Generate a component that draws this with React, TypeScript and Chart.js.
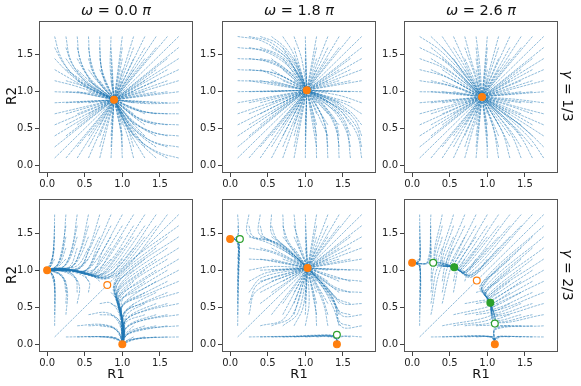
import React, { useEffect, useRef } from "react";
import { Chart, registerables } from "chart.js";
Chart.register(...registerables);

// ---------- data ----------
const TICK_VALUES = [0, 0.5, 1.0, 1.5];
const OMEGA_LABELS = ["0.0", "1.8", "2.6"];
const GAMMA_LABELS = ["1/3", "2/3"];

// Trajectories for starts with R2 >= R1 (upper-left half).
// The system is symmetric under R1 <-> R2, so the other half is the same list with x/y swapped.
// Each trajectory: [x0, y0, x1, y1, ...] ending at the attractor it reaches.

// ω = 0.0π, γ = 1/3  (node at 0.89, 0.89)
const trajA: number[][] = [
  [0.1, 1.75, 0.17, 1.5, 0.32, 1.25, 0.55, 1.05, 0.89, 0.89],
  [0.1, 1.6, 0.22, 1.38, 0.4, 1.18, 0.62, 1.02, 0.89, 0.89],
  [0.1, 1.45, 0.27, 1.27, 0.48, 1.1, 0.89, 0.89],
  [0.1, 1.3, 0.32, 1.17, 0.55, 1.04, 0.89, 0.89],
  [0.1, 1.15, 0.4, 1.07, 0.89, 0.89],
  [0.1, 1.0, 0.45, 0.98, 0.89, 0.89],
  [0.25, 1.75, 0.3, 1.47, 0.42, 1.24, 0.62, 1.04, 0.89, 0.89],
  [0.4, 1.75, 0.43, 1.47, 0.52, 1.24, 0.68, 1.03, 0.89, 0.89],
  [0.55, 1.75, 0.57, 1.45, 0.64, 1.2, 0.89, 0.89],
  [0.7, 1.75, 0.71, 1.4, 0.77, 1.12, 0.89, 0.89],
  [0.85, 1.75, 0.84, 1.3, 0.89, 0.89],
  [0.25, 1.6, 0.33, 1.38, 0.5, 1.17, 0.68, 1.02, 0.89, 0.89],
  [0.25, 1.45, 0.38, 1.27, 0.56, 1.1, 0.89, 0.89],
  [0.25, 1.3, 0.44, 1.17, 0.62, 1.04, 0.89, 0.89],
  [0.25, 1.15, 0.5, 1.07, 0.89, 0.89],
  [0.25, 1.0, 0.55, 0.98, 0.89, 0.89],
  [0.4, 1.6, 0.46, 1.38, 0.58, 1.17, 0.89, 0.89],
  [0.4, 1.45, 0.5, 1.27, 0.63, 1.1, 0.89, 0.89],
  [0.4, 1.3, 0.55, 1.16, 0.89, 0.89],
  [0.4, 1.15, 0.6, 1.06, 0.89, 0.89],
  [0.55, 1.6, 0.59, 1.38, 0.68, 1.15, 0.89, 0.89],
  [0.55, 1.45, 0.62, 1.25, 0.89, 0.89],
  [0.55, 1.3, 0.66, 1.15, 0.89, 0.89],
  [0.7, 1.6, 0.73, 1.3, 0.89, 0.89],
  [0.7, 1.45, 0.75, 1.2, 0.89, 0.89],
];
// starts that run (nearly) straight into the node
const straightA: number[][] = [
  [0.1, 0.85], [0.1, 0.7], [0.1, 0.55], [0.1, 0.4], [0.1, 0.25], [0.1, 0.1],
  [1.0, 1.75], [1.15, 1.75], [1.3, 1.75], [1.45, 1.75], [1.6, 1.75], [1.75, 1.75],
  [0.25, 0.85], [0.25, 0.7], [0.25, 0.55], [0.25, 0.4],
  [0.4, 1.0], [0.4, 0.85], [0.4, 0.7], [0.4, 0.55],
  [0.55, 1.15], [0.55, 1.0], [0.55, 0.85], [0.55, 0.7],
  [0.7, 1.3], [0.7, 1.15], [0.7, 1.0], [0.7, 0.85],
  [0.85, 1.6], [0.85, 1.45], [0.85, 1.3], [0.85, 1.15], [0.85, 1.0],
  [1.0, 1.6], [1.0, 1.45], [1.0, 1.3], [1.0, 1.15],
  [1.15, 1.6], [1.15, 1.45], [1.15, 1.3],
  [1.3, 1.6], [1.3, 1.45], [1.45, 1.6],
];

// ω = 1.8π, γ = 1/3  (node at 1.02, 1.02)
const trajB: number[][] = [
  [0.1, 1.75, 0.42, 1.69, 0.74, 1.47, 0.93, 1.2, 1.02, 1.02],
  [0.1, 1.6, 0.45, 1.55, 0.76, 1.36, 1.02, 1.02],
  [0.1, 1.45, 0.45, 1.42, 0.78, 1.26, 1.02, 1.02],
  [0.1, 1.3, 0.5, 1.27, 0.8, 1.16, 1.02, 1.02],
  [0.1, 1.15, 0.55, 1.13, 1.02, 1.02],
  [0.25, 1.75, 0.52, 1.68, 0.8, 1.44, 0.95, 1.2, 1.02, 1.02],
  [0.4, 1.75, 0.62, 1.66, 0.84, 1.42, 1.02, 1.02],
  [0.55, 1.75, 0.73, 1.6, 0.9, 1.35, 1.02, 1.02],
  [0.7, 1.75, 0.84, 1.52, 1.02, 1.02],
  [0.85, 1.75, 0.95, 1.45, 1.02, 1.02],
  [0.25, 1.6, 0.55, 1.53, 0.82, 1.33, 1.02, 1.02],
  [0.25, 1.45, 0.55, 1.4, 0.83, 1.24, 1.02, 1.02],
  [0.25, 1.3, 0.6, 1.25, 1.02, 1.02],
  [0.4, 1.6, 0.65, 1.5, 0.87, 1.3, 1.02, 1.02],
  [0.4, 1.45, 0.65, 1.38, 1.02, 1.02],
  [0.55, 1.6, 0.76, 1.45, 1.02, 1.02],
];
const straightB: number[][] = [
  [0.1, 1.0], [0.1, 0.85], [0.1, 0.7], [0.1, 0.55], [0.1, 0.4], [0.1, 0.25], [0.1, 0.1],
  [1.0, 1.75], [1.15, 1.75], [1.3, 1.75], [1.45, 1.75], [1.6, 1.75], [1.75, 1.75],
  [0.25, 1.15], [0.25, 1.0], [0.25, 0.85], [0.25, 0.7], [0.25, 0.55], [0.25, 0.4],
  [0.4, 1.3], [0.4, 1.15], [0.4, 1.0], [0.4, 0.85], [0.4, 0.7], [0.4, 0.55],
  [0.55, 1.45], [0.55, 1.3], [0.55, 1.15], [0.55, 1.0], [0.55, 0.85], [0.55, 0.7],
  [0.7, 1.6], [0.7, 1.45], [0.7, 1.3], [0.7, 1.15], [0.7, 0.85],
  [0.85, 1.6], [0.85, 1.45], [0.85, 1.3], [0.85, 1.15],
  [1.0, 1.6], [1.0, 1.45], [1.0, 1.3],
  [1.15, 1.6], [1.15, 1.45], [1.15, 1.3],
  [1.3, 1.6], [1.3, 1.45], [1.45, 1.6],
];

// ω = 2.6π, γ = 1/3  (node at 0.93, 0.93)
const trajC: number[][] = [
  [0.1, 1.75, 0.35, 1.58, 0.6, 1.33, 0.8, 1.1, 0.93, 0.93],
  [0.1, 1.6, 0.38, 1.45, 0.62, 1.24, 0.93, 0.93],
  [0.1, 1.45, 0.4, 1.33, 0.65, 1.16, 0.93, 0.93],
  [0.1, 1.3, 0.45, 1.2, 0.93, 0.93],
  [0.1, 1.15, 0.5, 1.08, 0.93, 0.93],
  [0.1, 1.0, 0.5, 0.99, 0.93, 0.93],
  [0.25, 1.75, 0.45, 1.55, 0.66, 1.3, 0.82, 1.1, 0.93, 0.93],
  [0.4, 1.75, 0.55, 1.52, 0.72, 1.26, 0.93, 0.93],
  [0.55, 1.75, 0.66, 1.5, 0.78, 1.22, 0.93, 0.93],
  [0.7, 1.75, 0.78, 1.45, 0.93, 0.93],
  [0.85, 1.75, 0.9, 1.35, 0.93, 0.93],
  [0.25, 1.6, 0.45, 1.43, 0.66, 1.22, 0.93, 0.93],
  [0.25, 1.45, 0.48, 1.3, 0.93, 0.93],
  [0.25, 1.3, 0.5, 1.18, 0.93, 0.93],
  [0.25, 1.15, 0.55, 1.07, 0.93, 0.93],
  [0.4, 1.6, 0.56, 1.42, 0.72, 1.2, 0.93, 0.93],
  [0.4, 1.45, 0.58, 1.3, 0.93, 0.93],
  [0.4, 1.3, 0.6, 1.16, 0.93, 0.93],
  [0.55, 1.6, 0.68, 1.38, 0.93, 0.93],
  [0.55, 1.45, 0.68, 1.26, 0.93, 0.93],
  [0.7, 1.6, 0.8, 1.32, 0.93, 0.93],
];
const straightC: number[][] = [
  [0.1, 0.85], [0.1, 0.7], [0.1, 0.55], [0.1, 0.4], [0.1, 0.25], [0.1, 0.1],
  [1.0, 1.75], [1.15, 1.75], [1.3, 1.75], [1.45, 1.75], [1.6, 1.75], [1.75, 1.75],
  [0.25, 1.0], [0.25, 0.85], [0.25, 0.7], [0.25, 0.55], [0.25, 0.4],
  [0.4, 1.15], [0.4, 1.0], [0.4, 0.85], [0.4, 0.7], [0.4, 0.55],
  [0.55, 1.3], [0.55, 1.15], [0.55, 1.0], [0.55, 0.85], [0.55, 0.7],
  [0.7, 1.45], [0.7, 1.3], [0.7, 1.15], [0.7, 1.0], [0.7, 0.85],
  [0.85, 1.6], [0.85, 1.45], [0.85, 1.3], [0.85, 1.15], [0.85, 1.0],
  [1.0, 1.6], [1.0, 1.45], [1.0, 1.3], [1.0, 1.15],
  [1.15, 1.6], [1.15, 1.45], [1.15, 1.3],
  [1.3, 1.6], [1.3, 1.45], [1.45, 1.6],
];

// ω = 0.0π, γ = 2/3
const trajD: number[][] = [
  [0.1, 1.75, 0.09, 1.35, 0.06, 1.08, 0, 1],
  [0.1, 1.6, 0.08, 1.25, 0.04, 1.05, 0, 1],
  [0.1, 1.45, 0.07, 1.18, 0, 1],
  [0.1, 1.3, 0.06, 1.12, 0, 1],
  [0.1, 1.15, 0.05, 1.06, 0, 1],
  [0.1, 1.0, 0, 1],
  [0.1, 0.85, 0.07, 0.95, 0, 1],
  [0.1, 0.7, 0.09, 0.9, 0.04, 0.98, 0, 1],
  [0.1, 0.55, 0.1, 0.85, 0.05, 0.97, 0, 1],
  [0.1, 0.4, 0.1, 0.8, 0.05, 0.97, 0, 1],
  [0.1, 0.25, 0.1, 0.75, 0.05, 0.96, 0, 1],
  [0.1, 0.1, 0.8, 0.8],
  [0.25, 1.75, 0.21, 1.3, 0.13, 1.06, 0, 1],
  [0.4, 1.75, 0.33, 1.3, 0.23, 1.06, 0.08, 1.02, 0, 1],
  [0.55, 1.75, 0.45, 1.3, 0.33, 1.05, 0.12, 1.02, 0, 1],
  [0.7, 1.75, 0.56, 1.3, 0.43, 1.03, 0.15, 1.02, 0, 1],
  [0.85, 1.75, 0.66, 1.3, 0.51, 1.0, 0.2, 1.02, 0, 1],
  [1.0, 1.75, 0.75, 1.28, 0.58, 0.97, 0.25, 1.01, 0, 1],
  [1.15, 1.75, 0.84, 1.24, 0.63, 0.95, 0.3, 1.0, 0, 1],
  [1.3, 1.75, 0.93, 1.18, 0.68, 0.92, 0.35, 1.0, 0, 1],
  [1.45, 1.75, 1.0, 1.1, 0.72, 0.9, 0.4, 0.99, 0, 1],
  [1.6, 1.75, 1.05, 1.03, 0.76, 0.88, 0.45, 0.98, 0, 1],
  [1.75, 1.75, 0.8, 0.8],
  [0.25, 1.6, 0.19, 1.25, 0.12, 1.05, 0, 1],
  [0.4, 1.6, 0.32, 1.25, 0.22, 1.05, 0.08, 1.02, 0, 1],
  [0.55, 1.6, 0.44, 1.25, 0.32, 1.04, 0.1, 1.02, 0, 1],
  [0.7, 1.6, 0.55, 1.25, 0.42, 1.02, 0.15, 1.02, 0, 1],
  [0.85, 1.6, 0.65, 1.22, 0.5, 0.99, 0.2, 1.02, 0, 1],
  [1.0, 1.6, 0.74, 1.18, 0.57, 0.96, 0.25, 1.01, 0, 1],
  [1.15, 1.6, 0.84, 1.12, 0.63, 0.94, 0.3, 1.0, 0, 1],
  [1.3, 1.6, 0.92, 1.07, 0.68, 0.92, 0.35, 1.0, 0, 1],
  [1.45, 1.6, 0.95, 0.98, 0.72, 0.9, 0.4, 0.99, 0, 1],
  [0.25, 1.45, 0.18, 1.15, 0.1, 1.03, 0, 1],
  [0.4, 1.45, 0.3, 1.15, 0.2, 1.03, 0.06, 1.02, 0, 1],
  [0.55, 1.45, 0.42, 1.15, 0.3, 1.03, 0.1, 1.02, 0, 1],
  [0.7, 1.45, 0.53, 1.13, 0.4, 1.01, 0.12, 1.02, 0, 1],
  [0.85, 1.45, 0.63, 1.1, 0.48, 0.98, 0.18, 1.02, 0, 1],
  [1.0, 1.45, 0.73, 1.06, 0.56, 0.95, 0.25, 1.01, 0, 1],
  [1.15, 1.45, 0.82, 1.0, 0.62, 0.93, 0.3, 1.0, 0, 1],
  [1.3, 1.45, 0.82, 0.9, 0.5, 0.97, 0, 1],
  [0.25, 1.3, 0.16, 1.08, 0, 1],
  [0.4, 1.3, 0.3, 1.05, 0.1, 1.02, 0, 1],
  [0.55, 1.3, 0.4, 1.06, 0.12, 1.02, 0, 1],
  [0.7, 1.3, 0.52, 1.0, 0.2, 1.02, 0, 1],
  [0.85, 1.3, 0.6, 1.0, 0.2, 1.02, 0, 1],
  [1.0, 1.3, 0.68, 0.93, 0.35, 1.0, 0, 1],
  [1.15, 1.3, 0.8, 0.93, 0.4, 0.99, 0, 1],
  [0.25, 1.15, 0.12, 1.03, 0, 1],
  [0.55, 1.15, 0.38, 1.02, 0.1, 1.02, 0, 1],
  [0.85, 1.15, 0.62, 0.95, 0.3, 1.0, 0, 1],
  [1.0, 1.15, 0.8, 0.9, 0.45, 0.98, 0, 1],
  [0.25, 0.4, 0.27, 0.72, 0.2, 0.93, 0.06, 0.99, 0, 1],
  [0.25, 0.55, 0.25, 0.8, 0.15, 0.96, 0, 1],
  [0.25, 0.7, 0.21, 0.9, 0.08, 0.98, 0, 1],
  [0.25, 0.85, 0.15, 0.96, 0, 1],
  [0.4, 0.55, 0.43, 0.78, 0.33, 0.95, 0.1, 1.0, 0, 1],
  [0.4, 0.7, 0.38, 0.88, 0.22, 0.98, 0, 1],
  [0.4, 0.85, 0.32, 0.96, 0.12, 1.0, 0, 1],
  [0.55, 0.7, 0.56, 0.84, 0.43, 0.95, 0.15, 1.0, 0, 1],
  [0.55, 0.85, 0.48, 0.95, 0.2, 1.0, 0, 1],
  [0.7, 0.85, 0.6, 0.93, 0.3, 1.0, 0, 1],
];

// ω = 1.8π, γ = 2/3
const trajE: number[][] = [
  [0.1, 1.75, 0.11, 1.52, 0.07, 1.43, 0, 1.42],
  [0.1, 1.6, 0.11, 1.48, 0.06, 1.43, 0, 1.42],
  [0.1, 1.45, 0.05, 1.43, 0, 1.42],
  [0.1, 1.3, 0.11, 1.38, 0.06, 1.42, 0, 1.42],
  [0.1, 1.15, 0.11, 1.36, 0.06, 1.42, 0, 1.42],
  [0.1, 1.0, 0.11, 1.35, 0.06, 1.42, 0, 1.42],
  [0.1, 0.85, 0.11, 1.32, 0.06, 1.42, 0, 1.42],
  [0.1, 0.7, 0.11, 1.3, 0.06, 1.42, 0, 1.42],
  [0.1, 0.55, 0.11, 1.1, 0.12, 1.36, 0.06, 1.42, 0, 1.42],
  [0.1, 0.4, 0.11, 1.0, 0.12, 1.36, 0.06, 1.42, 0, 1.42],
  [0.1, 0.25, 0.11, 0.8, 0.12, 1.35, 0.06, 1.42, 0, 1.42],
  [0.25, 1.75, 0.22, 1.52, 0.3, 1.44, 0.55, 1.4, 0.82, 1.22, 1.03, 1.03],
  [0.4, 1.75, 0.38, 1.5, 0.52, 1.41, 0.82, 1.22, 1.03, 1.03],
  [0.55, 1.75, 0.55, 1.5, 0.72, 1.33, 1.03, 1.03],
  [0.7, 1.75, 0.73, 1.45, 0.87, 1.22, 1.03, 1.03],
  [0.85, 1.75, 0.9, 1.38, 1.03, 1.03],
  [0.25, 1.6, 0.3, 1.46, 0.6, 1.37, 0.85, 1.2, 1.03, 1.03],
  [0.25, 1.45, 0.5, 1.37, 0.82, 1.2, 1.03, 1.03],
  [0.25, 1.3, 0.55, 1.24, 1.03, 1.03],
  [0.25, 1.15, 0.55, 1.13, 1.03, 1.03],
  [0.25, 1.0, 0.55, 1.05, 1.03, 1.03],
  [0.25, 0.85, 0.5, 0.97, 1.03, 1.03],
  [0.25, 0.7, 0.42, 0.9, 1.03, 1.03],
  [0.25, 0.55, 0.38, 0.82, 1.03, 1.03],
  [0.25, 0.4, 0.35, 0.72, 1.03, 1.03],
  [0.4, 1.6, 0.45, 1.45, 0.7, 1.33, 1.03, 1.03],
  [0.55, 1.6, 0.62, 1.42, 0.82, 1.25, 1.03, 1.03],
  [0.7, 1.6, 0.78, 1.38, 1.03, 1.03],
  [0.4, 1.45, 0.6, 1.35, 1.03, 1.03],
  [0.55, 1.45, 0.72, 1.32, 1.03, 1.03],
  [0.4, 1.3, 0.65, 1.22, 1.03, 1.03],
];
const straightE: number[][] = [
  [0.1, 0.1],
  [1.0, 1.75], [1.15, 1.75], [1.3, 1.75], [1.45, 1.75], [1.6, 1.75], [1.75, 1.75],
  [0.85, 1.6], [1.0, 1.6], [1.15, 1.6], [1.3, 1.6], [1.45, 1.6],
  [0.7, 1.45], [0.85, 1.45], [1.0, 1.45], [1.15, 1.45], [1.3, 1.45],
  [0.55, 1.3], [0.7, 1.3], [0.85, 1.3], [1.0, 1.3], [1.15, 1.3],
  [0.4, 1.15], [0.55, 1.15], [0.7, 1.15], [0.85, 1.15], [1.0, 1.15],
  [0.4, 1.0], [0.55, 1.0], [0.7, 1.0], [0.85, 1.0],
  [0.4, 0.85], [0.55, 0.85], [0.7, 0.85],
  [0.4, 0.7], [0.55, 0.7], [0.4, 0.55],
];

// ω = 2.6π, γ = 2/3
const trajF: number[][] = [
  [0.1, 1.75, 0.1, 1.15, 0.05, 1.1, 0, 1.1],
  [0.1, 1.6, 0.1, 1.14, 0.05, 1.1, 0, 1.1],
  [0.1, 1.45, 0.1, 1.13, 0, 1.1],
  [0.1, 1.3, 0.1, 1.12, 0, 1.1],
  [0.1, 1.15, 0, 1.1],
  [0.1, 1.0, 0.1, 1.08, 0, 1.1],
  [0.1, 0.85, 0.1, 1.07, 0, 1.1],
  [0.1, 0.7, 0.1, 1.06, 0, 1.1],
  [0.1, 0.55, 0.1, 1.05, 0, 1.1],
  [0.1, 0.4, 0.1, 1.05, 0, 1.1],
  [0.1, 0.25, 0.1, 1.05, 0, 1.1],
  [0.1, 0.1, 0.86, 0.86],
  [0.25, 1.75, 0.2, 1.11, 0, 1.1],
  [0.4, 1.75, 0.3, 1.1, 0.56, 1.04],
  [0.55, 1.75, 0.38, 1.09, 0.56, 1.04],
  [0.7, 1.75, 0.45, 1.08, 0.56, 1.04],
  [0.85, 1.75, 0.52, 1.05, 0.56, 1.04],
  [1.0, 1.75, 0.58, 1.03, 0.56, 1.04],
  [1.15, 1.75, 0.64, 1.0, 0.56, 1.04],
  [1.3, 1.75, 0.7, 0.98, 0.56, 1.04],
  [1.45, 1.75, 0.75, 0.95, 0.56, 1.04],
  [1.6, 1.75, 0.8, 0.91, 0.56, 1.04],
  [1.75, 1.75, 0.86, 0.86],
  [0.25, 1.6, 0.21, 1.11, 0, 1.1],
  [0.4, 1.6, 0.31, 1.1, 0.56, 1.04],
  [0.55, 1.6, 0.4, 1.09, 0.56, 1.04],
  [0.7, 1.6, 0.47, 1.07, 0.56, 1.04],
  [0.85, 1.6, 0.54, 1.05, 0.56, 1.04],
  [1.0, 1.6, 0.6, 1.02, 0.56, 1.04],
  [1.15, 1.6, 0.66, 1.0, 0.56, 1.04],
  [1.3, 1.6, 0.72, 0.97, 0.56, 1.04],
  [1.45, 1.6, 0.78, 0.93, 0.56, 1.04],
  [0.25, 1.45, 0.22, 1.11, 0, 1.1],
  [0.4, 1.45, 0.33, 1.1, 0.56, 1.04],
  [0.55, 1.45, 0.42, 1.08, 0.56, 1.04],
  [0.7, 1.45, 0.5, 1.06, 0.56, 1.04],
  [0.85, 1.45, 0.57, 1.04],
  [1.0, 1.45, 0.64, 1.01, 0.56, 1.04],
  [1.15, 1.45, 0.7, 0.98, 0.56, 1.04],
  [1.3, 1.45, 0.77, 0.94, 0.56, 1.04],
  [0.25, 1.3, 0.23, 1.1, 0, 1.1],
  [0.4, 1.3, 0.35, 1.09, 0.56, 1.04],
  [0.55, 1.3, 0.45, 1.08, 0.56, 1.04],
  [0.7, 1.3, 0.54, 1.05, 0.56, 1.04],
  [0.85, 1.3, 0.62, 1.02, 0.56, 1.04],
  [1.0, 1.3, 0.7, 0.98, 0.56, 1.04],
  [1.15, 1.3, 0.78, 0.93, 0.56, 1.04],
  [0.4, 1.15, 0.37, 1.09, 0.56, 1.04],
  [0.55, 1.15, 0.5, 1.06, 0.56, 1.04],
  [0.7, 1.15, 0.62, 1.02, 0.56, 1.04],
  [0.85, 1.15, 0.72, 0.97, 0.56, 1.04],
  [1.0, 1.15, 0.8, 0.92, 0.56, 1.04],
  [0.25, 0.4, 0.4, 1.07, 0.56, 1.04],
  [0.25, 0.55, 0.36, 1.08, 0.56, 1.04],
  [0.25, 0.7, 0.32, 1.09, 0.56, 1.04],
  [0.25, 0.85, 0.29, 1.1, 0.56, 1.04],
  [0.4, 0.55, 0.52, 1.05, 0.56, 1.04],
  [0.4, 0.7, 0.48, 1.06, 0.56, 1.04],
  [0.4, 0.85, 0.45, 1.07, 0.56, 1.04],
  [0.55, 0.7, 0.6, 1.02, 0.56, 1.04],
  [0.55, 0.85, 0.58, 1.03, 0.56, 1.04],
  [0.7, 0.85, 0.72, 0.96, 0.56, 1.04],
];

// fixed points [x, y]
const stableA = [[0.89, 0.89]];
const stableB = [[1.02, 1.02]];
const stableC = [[0.93, 0.93]];
const stableD = [[0, 1], [1, 0]];
const saddleD = [[0.8, 0.8]];
const stableE = [[0, 1.42], [1.42, 0], [1.03, 1.03]];
const greenOpenE = [[0.13, 1.42], [1.42, 0.13]];
const stableF = [[0, 1.1], [1.1, 0]];
const saddleF = [[0.86, 0.86]];
const greenOpenF = [[0.28, 1.1], [1.1, 0.28]];
const greenF = [[0.56, 1.04], [1.04, 0.56]];

// ---------- rendering ----------
const BLUE = "rgba(31,119,180,0.62)";
const ORANGE = "#ff7f0e";
const GREEN = "#2ca02c";
const FONT = "'DejaVu Sans', sans-serif";

const X_RANGE = [-0.108, 1.94];
const Y_RANGE = [-0.103, 1.96];

const COLS = [[39, 193], [222, 376], [404, 558]];
const ROWS = [[19, 173], [197, 352]];
const PAD_L = 36, PAD_T = 6, PAD_R = 6, PAD_B = 22;

function toPts(flat: number[], swap = false) {
  const out: { x: number; y: number }[] = [];
  for (let i = 0; i + 1 < flat.length; i += 2) {
    out.push(swap ? { x: flat[i + 1], y: flat[i] } : { x: flat[i], y: flat[i + 1] });
  }
  return out;
}

const framePlugin = {
  id: "frame",
  afterDraw(chart: any) {
    const { ctx, chartArea: a } = chart;
    ctx.save();
    ctx.strokeStyle = "#555";
    ctx.lineWidth = 1;
    ctx.strokeRect(Math.round(a.left) + 0.5, Math.round(a.top) + 0.5, Math.round(a.right - a.left) - 1, Math.round(a.bottom - a.top) - 1);
    ctx.restore();
  },
};

interface Spec {
  traj: number[][];
  straight?: number[][];
  stable: number[][];
  saddle?: number[][];
  green?: number[][];
  greenOpen?: number[][];
  col: number;
  row: number;
}

function Panel({ spec }: { spec: Spec }) {
  const ref = useRef<HTMLCanvasElement>(null);
  const [L, R] = COLS[spec.col];
  const [T, B] = ROWS[spec.row];
  const w = R - L + PAD_L + PAD_R;
  const h = B - T + PAD_T + PAD_B;

  useEffect(() => {
    const datasets: any[] = [];
    const mk = (pts: number[][] | undefined, bg: string, bc: string) => {
      if (!pts || !pts.length) return;
      datasets.push({
        data: pts.map((p) => ({ x: p[0], y: p[1] })),
        showLine: false,
        pointRadius: 3.4,
        pointBackgroundColor: bg,
        pointBorderColor: bc,
        pointBorderWidth: 1.2,
        order: 0,
        clip: false,
      });
    };
    mk(spec.stable, ORANGE, ORANGE);
    mk(spec.saddle, "#ffffff", ORANGE);
    mk(spec.green, GREEN, GREEN);
    mk(spec.greenOpen, "#ffffff", GREEN);
    const line = (data: any[]) => ({
      data,
      showLine: true,
      pointRadius: 0,
      borderColor: BLUE,
      borderWidth: 0.8,
      borderDash: [2.6, 1],
      tension: 0.35,
      fill: false,
      order: 1,
    });
    const all: number[][] = [...spec.traj];
    const node = spec.stable[spec.stable.length - 1];
    for (const s of spec.straight || []) all.push([s[0], s[1], node[0], node[1]]);
    for (const t of all) {
      datasets.push(line(toPts(t)));
      if (Math.abs(t[0] - t[1]) > 1e-9) datasets.push(line(toPts(t, true)));
    }
    const tickFont = { family: FONT, size: 10 };
    const chart = new Chart(ref.current as HTMLCanvasElement, {
      type: "scatter",
      data: { datasets },
      plugins: [framePlugin],
      options: {
        animation: false,
        responsive: false,
        events: [],
        layout: { padding: { left: 0, top: PAD_T, right: PAD_R, bottom: 0 } },
        plugins: { legend: { display: false }, tooltip: { enabled: false } },
        scales: {
          x: {
            type: "linear",
            min: X_RANGE[0],
            max: X_RANGE[1],
            afterBuildTicks: (s: any) => {
              s.ticks = TICK_VALUES.map((v) => ({ value: v }));
            },
            afterFit: (s: any) => {
              s.height = PAD_B;
            },
            ticks: {
              callback: (v: any) => Number(v).toFixed(1),
              font: tickFont,
              color: "#222",
              padding: 1,
              maxRotation: 0,
              autoSkip: false,
            },
            grid: { display: true, drawOnChartArea: false, drawTicks: true, tickLength: 4, color: "#444" },
            border: { display: false },
          },
          y: {
            type: "linear",
            min: Y_RANGE[0],
            max: Y_RANGE[1],
            afterBuildTicks: (s: any) => {
              s.ticks = TICK_VALUES.map((v) => ({ value: v }));
            },
            afterFit: (s: any) => {
              s.width = PAD_L;
            },
            ticks: {
              callback: (v: any) => Number(v).toFixed(1),
              font: tickFont,
              color: "#222",
              padding: 2,
              autoSkip: false,
            },
            grid: { display: true, drawOnChartArea: false, drawTicks: true, tickLength: 4, color: "#444" },
            border: { display: false },
          },
        },
      } as any,
    });
    return () => chart.destroy();
  }, []);

  return (
    <canvas
      ref={ref}
      width={w}
      height={h}
      style={{ position: "absolute", left: L - PAD_L, top: T - PAD_T, width: w, height: h }}
    />
  );
}

const SPECS: Spec[] = [
  { traj: trajA, straight: straightA, stable: stableA, col: 0, row: 0 },
  { traj: trajB, straight: straightB, stable: stableB, col: 1, row: 0 },
  { traj: trajC, straight: straightC, stable: stableC, col: 2, row: 0 },
  { traj: trajD, stable: stableD, saddle: saddleD, col: 0, row: 1 },
  { traj: trajE, straight: straightE, stable: stableE, greenOpen: greenOpenE, col: 1, row: 1 },
  { traj: trajF, stable: stableF, saddle: saddleF, green: greenF, greenOpen: greenOpenF, col: 2, row: 1 },
];

export default function App() {
  const textBase: React.CSSProperties = {
    position: "absolute",
    fontFamily: FONT,
    color: "#111",
    whiteSpace: "nowrap",
  };
  return (
    <div style={{ position: "fixed", left: 0, top: 0, width: 581, height: 386, background: "#fff", overflow: "hidden" }}>
      {SPECS.map((s, i) => (
        <Panel key={i} spec={s} />
      ))}
      {OMEGA_LABELS.map((w, i) => {
        const cx = (COLS[i][0] + COLS[i][1]) / 2;
        return (
          <div key={"t" + i} style={{ ...textBase, left: cx - 60, width: 120, top: 2, textAlign: "center", fontSize: 14.5, lineHeight: "16px" }}>
            <i>ω</i> = {w} <i>π</i>
          </div>
        );
      })}
      {ROWS.map((r, i) => {
        const cy = (r[0] + r[1]) / 2;
        return (
          <div key={"r2" + i} style={{ ...textBase, left: 11 - 20, top: cy - 8, width: 40, height: 16, textAlign: "center", fontSize: 13.5, lineHeight: "16px", transform: "rotate(-90deg)" }}>
            R2
          </div>
        );
      })}
      {COLS.map((c, i) => {
        const cx = (c[0] + c[1]) / 2;
        return (
          <div key={"r1" + i} style={{ ...textBase, left: cx - 20, top: 366, width: 40, textAlign: "center", fontSize: 13, lineHeight: "16px" }}>
            R1
          </div>
        );
      })}
      {GAMMA_LABELS.map((g, i) => {
        const cy = (ROWS[i][0] + ROWS[i][1]) / 2;
        return (
          <div key={"g" + i} style={{ ...textBase, left: 568 - 40, top: cy - 8, width: 80, height: 16, textAlign: "center", fontSize: 14, lineHeight: "16px", transform: "rotate(90deg)" }}>
            <i>γ</i> = {g}
          </div>
        );
      })}
    </div>
  );
}
